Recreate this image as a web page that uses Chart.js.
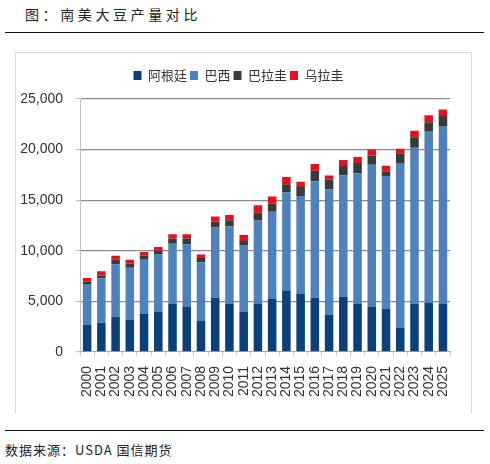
<!DOCTYPE html>
<html>
<head>
<meta charset="utf-8">
<script src="https://cdn.jsdelivr.net/npm/chart.js@4.4.1/dist/chart.umd.min.js"></script>
<style>
  html, body { margin: 0; padding: 0; background: #fff; }
  body { width: 490px; height: 464px; position: relative; overflow: hidden; font-family: "Noto Sans CJK SC", sans-serif; }
  #title { position: absolute; left: 25px; top: 4px; font-size: 14px; letter-spacing: 3.6px; color: #222; line-height: 20px; white-space: nowrap; }
  #topline { position: absolute; left: 5px; top: 32px; width: 479px; height: 0; border-top: 1.5px solid #111; }
  #box { position: absolute; left: 15px; top: 52px; width: 455px; height: 360px; border: 1px solid #d9d9d9; border-bottom: none; }
  #wrap { position: absolute; left: 16px; top: 53px; width: 454px; height: 358px; }
  #botline { position: absolute; left: 5px; top: 430px; width: 479px; height: 0; border-top: 1.5px solid #111; }
  #src { position: absolute; left: 5px; top: 440px; font-size: 13px; letter-spacing: 1px; color: #222; line-height: 20px; white-space: nowrap; }
</style>
</head>
<body>
<div id="title">图：南美大豆产量对比</div>
<div id="topline"></div>
<div id="box"></div>
<div id="wrap"><canvas id="c"></canvas></div>
<div id="botline"></div>
<div id="src">数据来源：USDA 国信期货</div>
<script>
const years = ["2000","2001","2002","2003","2004","2005","2006","2007","2008","2009","2010","2011","2012","2013","2014","2015","2016","2017","2018","2019","2020","2021","2022","2023","2024","2025"];
const argentina = [2660,2890,3460,3190,3750,3950,4720,4490,3060,5350,4780,3950,4780,5220,6010,5780,5350,3690,5450,4720,4490,4250,2360,4720,4820,4720];
const brazil    = [3980,4390,5210,5120,5350,5720,5980,6140,5810,6940,7610,6610,8210,8630,9770,9640,11530,12360,11990,12920,14010,13130,16310,15450,16940,17610];
const paraguay  = [300,260,430,390,430,330,500,570,400,570,630,400,760,800,800,890,1030,990,930,1030,900,430,960,1060,930,990];
const uruguay   = [370,430,400,400,340,370,430,430,360,530,500,600,740,700,700,500,660,400,600,600,600,600,440,630,700,630];
const seriesNames = ["阿根廷","巴西","巴拉圭","乌拉圭"];
const yTicks = [0,5000,10000,15000,20000,25000];

const colors = ["#0b4178","#4f81bd","#3a3a3a","#e3121c"];
const seriesData = [argentina, brazil, paraguay, uruguay];

const legendSpacer = {
  id: 'legendSpacer',
  beforeInit(chart) {
    const orig = chart.legend.fit;
    chart.legend.fit = function () { orig.call(this); this.height += 7; };
  }
};

new Chart(document.getElementById('c'), {
  type: 'bar',
  data: {
    labels: years,
    datasets: seriesNames.map((n, i) => ({
      label: n,
      data: seriesData[i],
      backgroundColor: colors[i],
      borderWidth: 0,
      barPercentage: 0.6,
      categoryPercentage: 1.0
    }))
  },
  options: {
    responsive: true,
    maintainAspectRatio: false,
    animation: false,
    devicePixelRatio: 1,
    layout: { padding: { left: 4, right: 13, top: 13, bottom: 4 } },
    plugins: {
      legend: {
        position: 'top',
        labels: {
          boxWidth: 8, boxHeight: 9, padding: 3, color: '#333',
          font: { family: "'Noto Sans CJK SC', sans-serif", size: 13 }
        }
      },
      tooltip: { enabled: false }
    },
    scales: {
      x: {
        stacked: true,
        grid: { display: true, drawOnChartArea: false, offset: true, tickLength: 4, color: '#d6ccbc' },
        border: { display: true, color: '#a6a6a6', width: 1 },
        ticks: {
          autoSkip: false, maxRotation: 90, minRotation: 90, padding: 10, color: '#333',
          font: { family: "'Liberation Sans', Arial, sans-serif", size: 14 }
        }
      },
      y: {
        stacked: true,
        min: 0, max: 25000,
        afterBuildTicks(scale) { scale.ticks = yTicks.map(v => ({ value: v })); },
        afterFit(scale) { scale.width = 60; },
        grid: {
          color: ctx => (ctx.tick && ctx.tick.value === 0) ? 'rgba(0,0,0,0)' : '#8a8a8a',
          tickColor: '#bfbfbf',
          lineWidth: 1.2,
          borderDash: [10, 4],
          tickBorderDash: [],
          tickLength: 4
        },
        border: { display: true, color: '#bfbfbf', width: 1 },
        ticks: {
          padding: 13, color: '#333',
          font: { family: "'Liberation Sans', Arial, sans-serif", size: 14 },
          callback: v => Number(v).toLocaleString('en-US')
        }
      }
    }
  },
  plugins: [legendSpacer]
});
</script>
</body>
</html>
